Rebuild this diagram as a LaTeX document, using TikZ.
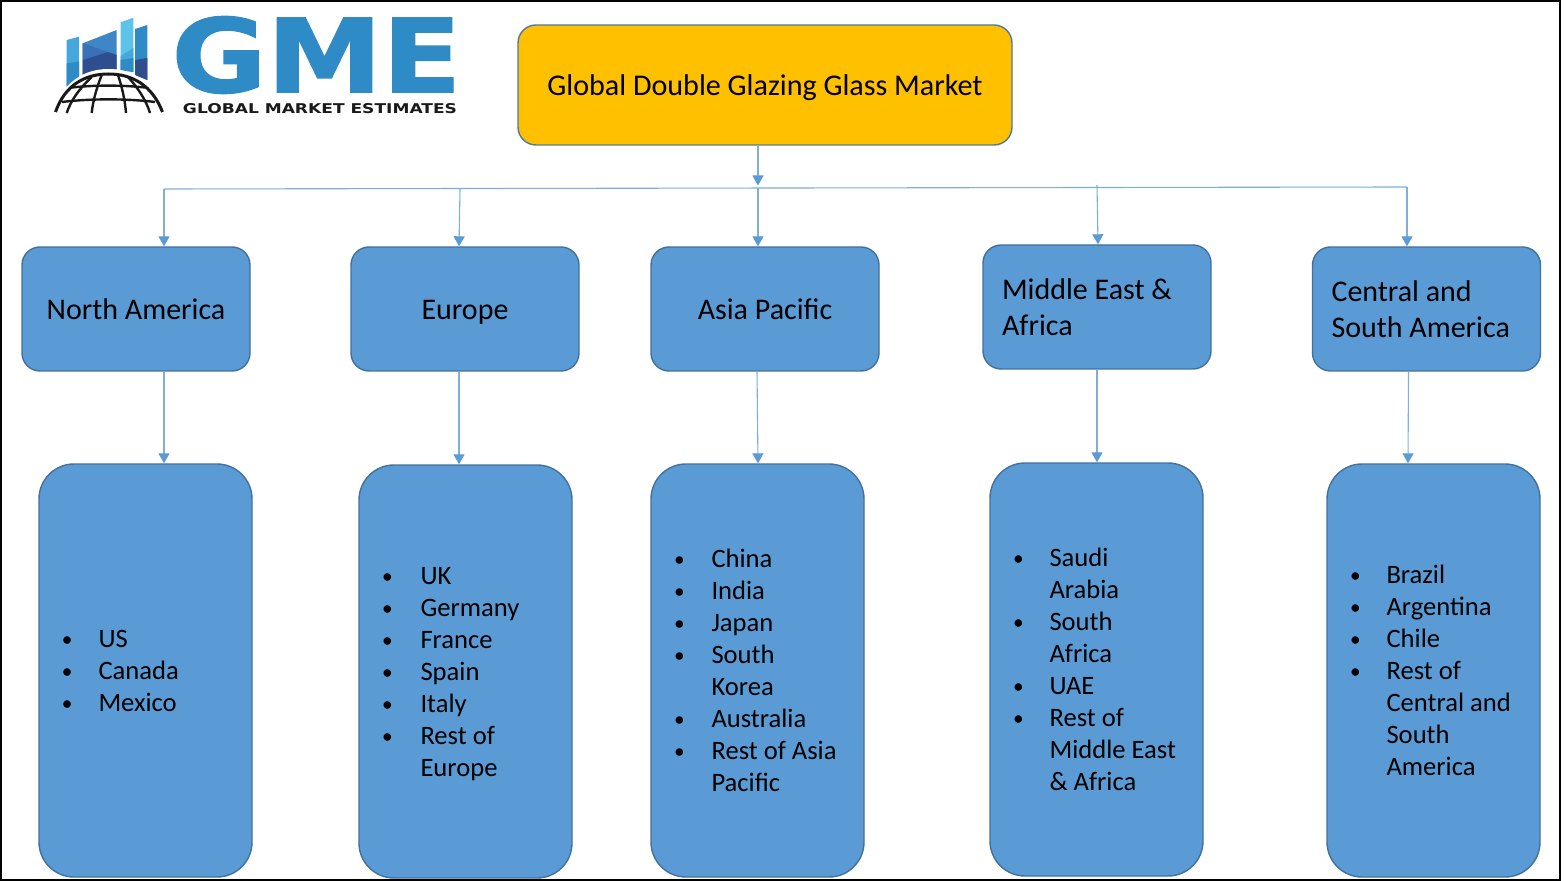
\documentclass[tikz,border=0pt]{standalone}
\usepackage{fontspec}
\setmainfont{Carlito}
\newfontfamily\logofont[FakeBold=1.2]{DejaVu Sans Bold}
\newfontfamily\tagfont{DejaVu Sans Bold}
\usetikzlibrary{arrows.meta}

\definecolor{boxblue}{HTML}{5B9BD5}
\definecolor{boxedge}{HTML}{41719C}
\definecolor{rootyellow}{HTML}{FFC000}
\definecolor{rootedge}{HTML}{4F7A9A}
\definecolor{linkblue}{HTML}{7FAEDC}
\definecolor{logoblue}{HTML}{2E8BC6}
\definecolor{logolight}{HTML}{45A7DC}
\definecolor{logocyan}{HTML}{5BC4E8}
\definecolor{logomid}{HTML}{3F86C6}
\definecolor{logoband}{HTML}{3A70B5}
\definecolor{logonavy}{HTML}{2F4E8F}
\definecolor{logotag}{HTML}{1A1A1A}

\newcommand{\listdot}{\raisebox{.7pt}{\scalebox{.8}{\textbullet}}}
\newcommand{\regionlist}[2][18.25pt]{\begin{tabular}{@{\hspace{11.5pt}}p{#1}@{}l@{}}#2\end{tabular}\vspace*{-3pt}}

\tikzset{
  rootbox/.style={draw=rootedge,line width=.7pt,fill=rootyellow,rounded corners=9pt,
    minimum width=247pt,minimum height=60pt,inner sep=0pt,text height=10.6pt,text depth=0pt,
    font=\fontsize{15.05}{18}\selectfont},
  regionbox/.style={draw=boxedge,line width=.7pt,fill=boxblue,rounded corners=9pt,
    minimum width=114pt,minimum height=62pt,inner sep=0pt,text height=10.6pt,text depth=0pt,
    font=\fontsize{15}{18}\selectfont},
  regiontwo/.style={regionbox,text height=,text depth=,text width=95pt,align=flush left},
  listbox/.style={draw=boxedge,line width=.7pt,fill=boxblue,rounded corners=17.5pt,
    text width=106.5pt,minimum height=206.5pt,inner sep=0pt,align=flush left,
    font=\fontsize{13.3}{16}\selectfont},
  link/.style={draw=linkblue,line width=.55pt,-{Triangle[length=5pt,width=5.5pt,color=boxblue]}},
  busline/.style={draw=linkblue,line width=.55pt},
  globeline/.style={draw=black!90,line width=1.2pt}
}

\begin{document}
\begin{tikzpicture}[x=.5pt,y=-.5pt]
\useasboundingbox (0,0) rectangle (1566,881);
\fill[white] (0,0) rectangle (1566,881);

% ===== Frame =====
\draw[black,line width=1pt] (1,1) rectangle (1560,880);

% ===== Logo, bars =====
\fill[logolight] (66.7,40) -- (79,36.7) -- (79,78) -- (66.7,86.7) -- cycle;
\fill[logoblue] (66.7,63.3) -- (79,61.7) -- (79,78) -- (66.7,86.7) -- cycle;

\fill[logomid] (82.7,43.3) -- (116.7,30) -- (116.7,69.3) -- (82.7,76) -- cycle;
\fill[logoband] (82.7,43) -- (108,52) -- (82.7,60) -- cycle;
\fill[logonavy] (82.7,60) -- (108,52) -- (116.7,55) -- (116.7,69.3) -- (82.7,76) -- cycle;

\fill[logocyan] (120.7,22.3) -- (133.3,17.7) -- (133.3,72) -- (120.7,70) -- cycle;
\fill[logolight] (120.7,56) -- (133.3,48) -- (133.3,72) -- (120.7,70) -- cycle;
\fill[logoblue] (120.7,60) -- (133.3,58) -- (133.3,72) -- (120.7,70) -- cycle;

\fill[logoblue] (135,29) -- (147.3,25) -- (147.3,80) -- (135,75) -- cycle;
\fill[logonavy] (135,60) -- (147.3,58) -- (147.3,80) -- (135,75) -- cycle;

% ===== Logo, globe =====
\fill[white] (52,114) .. controls (62,82) and (84,69) .. (108.5,69) .. controls (133,69) and (155,82) .. (165,114) -- cycle;
\draw[globeline,line width=1.5pt] (55.5,112) .. controls (65,85) and (85,74) .. (108.5,74) .. controls (132,74) and (152,85) .. (162.5,112);
\draw[globeline] (72,87.5) .. controls (95,85) and (122,85) .. (145,87.5);
\draw[globeline] (62,102) .. controls (90,98.5) and (127,98.5) .. (155,102);
\draw[globeline] (101.7,75) .. controls (97,87) and (93,100) .. (91.7,113);
\draw[globeline] (118,75) .. controls (122,87) and (125,100) .. (126,113);
\draw[globeline] (91.7,77) .. controls (80,88) and (71,100) .. (66.7,113);
\draw[globeline] (128,77) .. controls (138,88) and (146,100) .. (150,113);

% ===== Logo, lettering =====
\node[inner sep=0pt,text=logoblue] (gme) at (316.5,55)
  {\resizebox{145pt}{38pt}{\logofont GME}};
\node[inner sep=0pt,text=logotag] (tagline) at (320,108.5)
  {\resizebox{137pt}{5pt}{\tagfont GLOBAL MARKET ESTIMATES}};

% ===== Top of the chart =====
\node[rootbox] (market) at (765,85) {Global Double Glazing Glass Market};

\node[regionbox] (northam) at (136,309) {North America};
\node[regionbox] (europe) at (465,309) {Europe};
\node[regionbox] (asiapac) at (765,309) {Asia Pacific};
\node[regiontwo] (mea) at (1097,307) {Middle East \&\\Africa};
\node[regiontwo] (csam) at (1426.5,309) {Central and\\South America};

% ===== Lists =====
\node[listbox] (northamlist) at (145.5,670.5) {\regionlist{
  \listdot & US\\
  \listdot & Canada\\
  \listdot & Mexico}};
\node[listbox] (europelist) at (465.5,671.5) {\regionlist[19.25pt]{
  \listdot & UK\\
  \listdot & Germany\\
  \listdot & France\\
  \listdot & Spain\\
  \listdot & Italy\\
  \listdot & Rest of\\
  & Europe}};
\node[listbox] (asiapaclist) at (757.5,670.5) {\regionlist[18.75pt]{
  \listdot & China\\
  \listdot & India\\
  \listdot & Japan\\
  \listdot & South\\
  & Korea\\
  \listdot & Australia\\
  \listdot & Rest of Asia\\
  & Pacific}};
\node[listbox] (mealist) at (1096.5,669.5) {\regionlist{
  \listdot & Saudi\\
  & Arabia\\
  \listdot & South\\
  & Africa\\
  \listdot & UAE\\
  \listdot & Rest of\\
  & Middle East\\
  & \& Africa}};
\node[listbox] (csamlist) at (1433.5,670.5) {\regionlist{
  \listdot & Brazil\\
  \listdot & Argentina\\
  \listdot & Chile\\
  \listdot & Rest of\\
  & Central and\\
  & South\\
  & America}};

% ===== Bus line and arrows =====
\coordinate (busleft) at (164,189);
\coordinate (busright) at (1407,187);
\coordinate (bustip) at (758,185.5);
\coordinate (buseurope) at (460,189);
\coordinate (busasia) at (758,188);
\coordinate (busmea) at (1097,185);

\draw[busline] (busleft) -- (busright);
\draw[link] (market.south -| bustip) -- (bustip);

\draw[link] (busleft) -- ([xshift=14pt]northam.north);
\draw[link] (buseurope) -- ([xshift=-3pt]europe.north);
\draw[link] (busasia) -- ([xshift=-3.5pt]asiapac.north);
\draw[link] (busmea) -- ([xshift=.5pt]mea.north);
\draw[link] (busright) -- ([xshift=-9.75pt]csam.north);

\draw[link] ([xshift=14pt]northam.south) -- ([xshift=9.25pt]northamlist.north);
\draw[link] ([xshift=-3pt]europe.south) -- ([xshift=-3.25pt]europelist.north);
\draw[link] ([xshift=-4pt]asiapac.south) -- ([xshift=.25pt]asiapaclist.north);
\draw[link] (mea.south) -- ([xshift=.25pt]mealist.north);
\draw[link] ([xshift=-9pt]csam.south) -- ([xshift=-12.75pt]csamlist.north);

\end{tikzpicture}
\end{document}
